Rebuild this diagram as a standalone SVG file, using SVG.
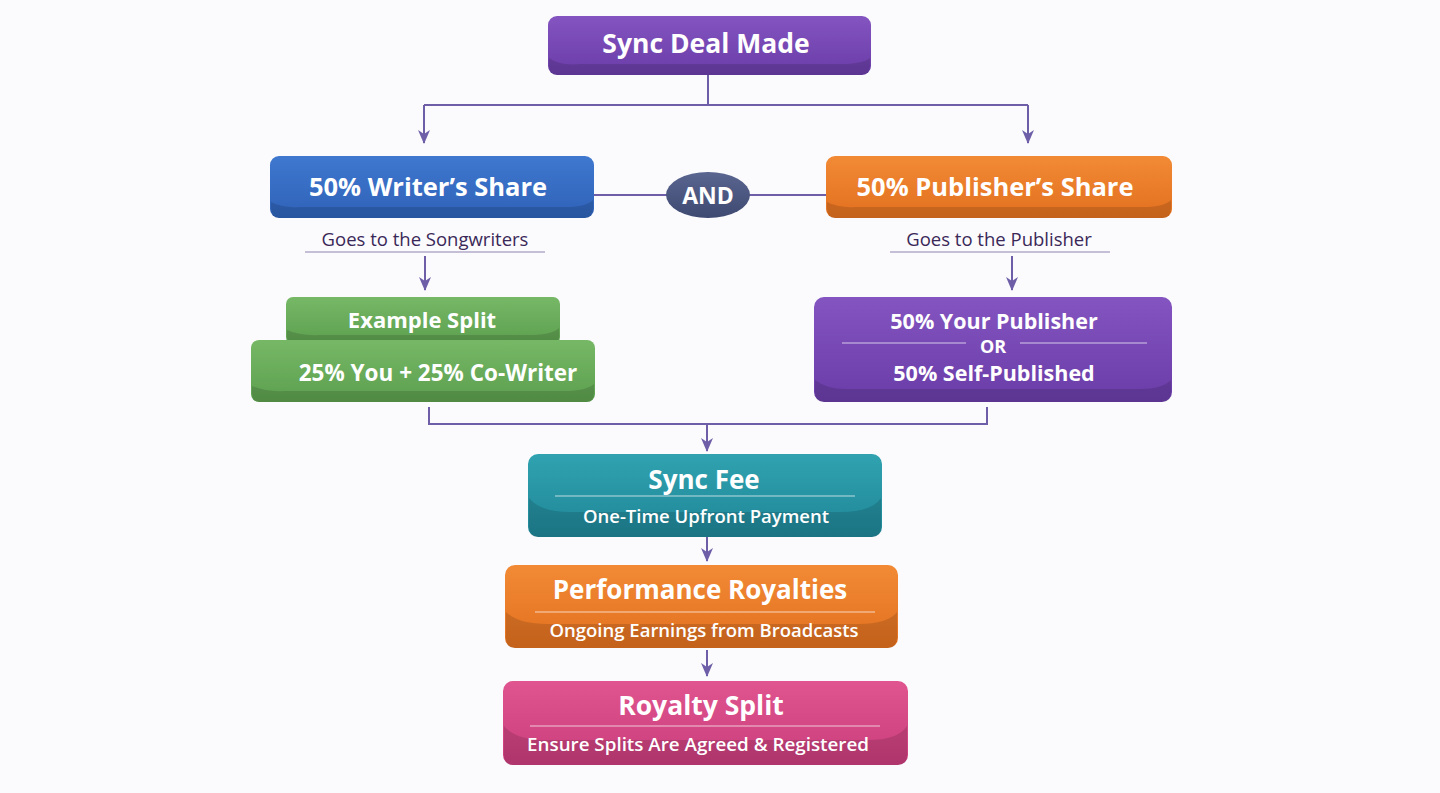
<svg xmlns="http://www.w3.org/2000/svg" width="1440" height="793" viewBox="0 0 1440 793">
<defs>
<linearGradient id="gPurple" x1="0" y1="0" x2="0" y2="1"><stop offset="0" stop-color="#8455c0"/><stop offset="1" stop-color="#6a3ca8"/></linearGradient>
<linearGradient id="gBlue" x1="0" y1="0" x2="0" y2="1"><stop offset="0" stop-color="#3f78cf"/><stop offset="1" stop-color="#2f62b8"/></linearGradient>
<linearGradient id="gOrange" x1="0" y1="0" x2="0" y2="1"><stop offset="0" stop-color="#f28a35"/><stop offset="1" stop-color="#e2701f"/></linearGradient>
<linearGradient id="gGreen" x1="0" y1="0" x2="0" y2="1"><stop offset="0" stop-color="#76b866"/><stop offset="1" stop-color="#5c9f4e"/></linearGradient>
<linearGradient id="gTeal" x1="0" y1="0" x2="0" y2="1"><stop offset="0" stop-color="#30a2b0"/><stop offset="1" stop-color="#1f8697"/></linearGradient>
<linearGradient id="gPink" x1="0" y1="0" x2="0" y2="1"><stop offset="0" stop-color="#e0558f"/><stop offset="1" stop-color="#c93d7c"/></linearGradient>
<linearGradient id="gAnd" x1="0" y1="0" x2="0" y2="1"><stop offset="0" stop-color="#5a6590"/><stop offset="1" stop-color="#3f4a72"/></linearGradient>
<marker id="arr" viewBox="0 0 14 12" refX="13" refY="6" markerWidth="14" markerHeight="12" markerUnits="userSpaceOnUse" orient="auto">
<path d="M0,0 L14,6 L0,12 L4,6 Z" fill="#6e5ea8"/>
</marker>
</defs>
<style>
.t{font-family:"Open Sans","Noto Sans","Liberation Sans",sans-serif;font-weight:700;fill:#ffffff;text-anchor:middle;}
.s{font-family:"Open Sans","Noto Sans","Liberation Sans",sans-serif;font-weight:600;fill:#ffffff;text-anchor:middle;}
.g{font-family:"Open Sans","Noto Sans","Liberation Sans",sans-serif;font-weight:400;fill:#3a2858;text-anchor:middle;font-size:18.5px;}
.c{fill:none;stroke:#6e5ea8;stroke-width:2;}
.shade{fill:#000;opacity:0.13;}
.hl{stroke:#ffffff;stroke-width:1.2;opacity:0.7;}
</style>
<rect width="1440" height="793" fill="#fbfbfd"/>

<g id="connectors">
<path class="c" d="M708,74 V105 M424,105 H1028"/>
<path class="c" d="M424,105 V143" marker-end="url(#arr)"/>
<path class="c" d="M1028,105 V143" marker-end="url(#arr)"/>
<path class="c" d="M594,195 H667 M749,195 H826"/>
<path class="c" d="M425,256 V290" marker-end="url(#arr)"/>
<path class="c" d="M1012,256 V290" marker-end="url(#arr)"/>
<path class="c" d="M429,407 V424 H987 V407"/>
<path class="c" d="M707,424 V451" marker-end="url(#arr)"/>
<path class="c" d="M707,537 V561" marker-end="url(#arr)"/>
<path class="c" d="M707,650 V676" marker-end="url(#arr)"/>
</g>

<g id="sync-deal">
<rect x="548" y="16" width="323" height="59" rx="9" fill="url(#gPurple)"/>
<path class="shade" d="M549,58 Q560,66 580,64 L840,64 Q862,64 870,58 L870,66 Q870,75 861,75 L557,75 Q549,75 549,66 Z"/>
<text class="t" x="706" y="53" font-size="26.5">Sync Deal Made</text>
</g>

<g id="writers-share">
<rect x="270" y="156" width="324" height="62" rx="9" fill="url(#gBlue)"/>
<path class="shade" d="M271,202 Q282,208 300,207 L566,207 Q586,207 593,200 L593,208 Q593,218 584,218 L279,218 Q271,218 271,208 Z"/>
<text class="t" x="428" y="196" font-size="25.5">50% Writer’s Share</text>
</g>

<g id="and">
<ellipse cx="708" cy="195" rx="42" ry="23" fill="url(#gAnd)"/>
<text class="t" x="708" y="204" font-size="23">AND</text>
</g>

<g id="publishers-share">
<rect x="826" y="156" width="346" height="62" rx="9" fill="url(#gOrange)"/>
<path class="shade" d="M827,202 Q838,208 856,207 L1144,207 Q1164,207 1171,200 L1171,208 Q1171,218 1162,218 L835,218 Q827,218 827,208 Z"/>
<text class="t" x="995" y="196" font-size="25.5">50% Publisher’s Share</text>
</g>

<g id="writer-note">
<text class="g" x="425" y="246">Goes to the Songwriters</text>
<line x1="305" y1="252" x2="545" y2="252" stroke="#8d84b0" stroke-width="1.2"/>
</g>

<g id="publisher-note">
<text class="g" x="999" y="246">Goes to the Publisher</text>
<line x1="890" y1="252" x2="1110" y2="252" stroke="#8d84b0" stroke-width="1.2"/>
</g>

<g id="example-split">
<rect x="286" y="297" width="274" height="47" rx="7" fill="url(#gGreen)"/>
<path class="shade" d="M287,330 Q300,336 320,335 L530,335 Q552,335 559,328 L559,336 Q559,344 551,344 L294,344 Q287,344 287,336 Z"/>
<text class="t" x="422" y="328" font-size="22">Example Split</text>
<rect x="251" y="340" width="344" height="62" rx="8" fill="url(#gGreen)"/>
<path class="shade" d="M252,386 Q265,392 285,391 L565,391 Q586,391 594,384 L594,393 Q594,402 586,402 L259,402 Q252,402 252,393 Z"/>
<text class="t" x="438" y="381" font-size="22.5">25% You  + 25% Co-Writer</text>
</g>

<g id="publisher-options">
<rect x="814" y="297" width="358" height="105" rx="10" fill="url(#gPurple)"/>
<path class="shade" d="M815,380 Q828,390 850,389 L1140,389 Q1162,389 1171,380 L1171,392 Q1171,402 1161,402 L824,402 Q815,402 815,392 Z"/>
<text class="t" x="994" y="329" font-size="21.5">50% Your Publisher</text>
<line class="hl" x1="842" y1="343" x2="966" y2="343"/>
<line class="hl" x1="1020" y1="343" x2="1147" y2="343"/>
<text class="t" x="993" y="353" font-size="18">OR</text>
<text class="t" x="994" y="381" font-size="21.5">50% Self-Published</text>
</g>

<g id="sync-fee">
<rect x="528" y="454" width="354" height="83" rx="10" fill="url(#gTeal)"/>
<path class="shade" d="M529,498 Q540,512 570,512 L840,512 Q872,512 881,498 L881,527 Q881,537 871,537 L538,537 Q529,537 529,527 Z"/>
<line class="hl" x1="555" y1="496" x2="855" y2="496"/>
<text class="t" x="704" y="489" font-size="26">Sync Fee</text>
<text class="s" x="706" y="523" font-size="18.5">One-Time Upfront Payment</text>
</g>

<g id="performance-royalties">
<rect x="505" y="565" width="393" height="83" rx="10" fill="url(#gOrange)"/>
<path class="shade" d="M506,612 Q518,624 548,624 L858,624 Q888,624 897,612 L897,638 Q897,648 887,648 L515,648 Q506,648 506,638 Z"/>
<line class="hl" x1="535" y1="612" x2="875" y2="612"/>
<text class="t" x="700" y="599" font-size="26">Performance Royalties</text>
<text class="s" x="704" y="637" font-size="18.5">Ongoing Earnings from Broadcasts</text>
</g>

<g id="royalty-split">
<rect x="503" y="681" width="405" height="84" rx="10" fill="url(#gPink)"/>
<path class="shade" d="M504,726 Q516,740 546,740 L868,740 Q898,740 907,726 L907,755 Q907,765 897,765 L513,765 Q504,765 504,755 Z"/>
<line class="hl" x1="530" y1="726" x2="880" y2="726"/>
<text class="t" x="701" y="715" font-size="26.5">Royalty Split</text>
<text class="s" x="698" y="751" font-size="18.8">Ensure Splits Are Agreed &amp; Registered</text>
</g>
</svg>
